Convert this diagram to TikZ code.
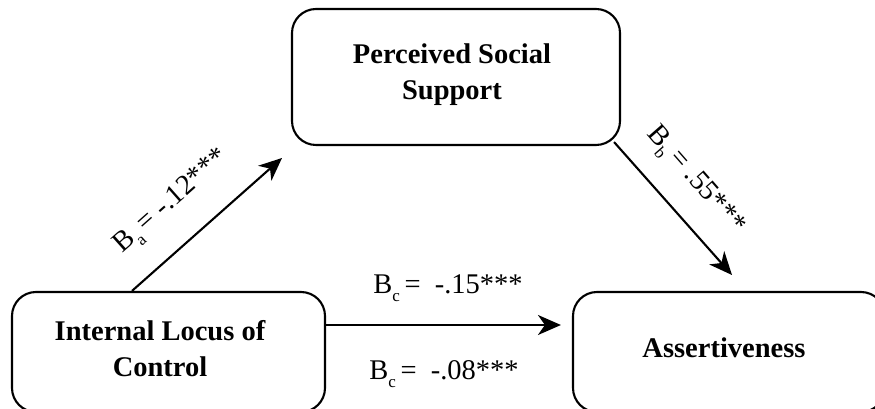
\documentclass[tikz,border=0pt]{standalone}
\usepackage{fontspec}
\setmainfont{Liberation Serif}
\usetikzlibrary{arrows.meta,calc}
\newcommand{\lowsub}[1]{\raisebox{-8pt}{\fontsize{17}{17}\selectfont #1}}
\begin{document}
\begin{tikzpicture}[x=1pt,y=1pt,
  box/.style={draw, line width=2.1pt, rounded corners=24pt, inner sep=0pt},
  boxtext/.style={font=\bfseries\fontsize{28.5}{36.5}\selectfont, align=center, anchor=base},
  lbl/.style={font=\fontsize{28.5}{30}\selectfont, inner sep=0pt},
  arr/.style={line width=2.1pt, -{Stealth[length=23pt,width=20pt,inset=7pt]}}]
\useasboundingbox (0,0) rectangle (875,409);
% boxes
\node[box, minimum width=328pt, minimum height=136pt] (pss) at (456,332) {};
\node[box, minimum width=313pt, minimum height=120pt] (ilc) at (168.5,57) {};
\node[box, minimum width=312pt, minimum height=120pt] (asr) at (729,57) {};
% texts (anchor = baseline of last line)
\node[boxtext] (tpss) at (452,309) {Perceived Social\\Support};
\node[boxtext] (tilc) at (160,32) {Internal Locus of\\Control};
\node[boxtext] (tasr) at (724,51) {Assertiveness};
% free ends
\coordinate (ta) at (282,251);
\coordinate (tb) at (732,134);
% connectors
\draw[arr] ($(ilc.north west)+(121,0)$) -- (ta);
\draw[arr] ($(pss.south east)+(-7,4)$) -- (tb);
\draw[arr, shorten >=11pt] (ilc.east |- 0,84) -- (asr.west |- 0,84);
% labels
\node[lbl, rotate=41.6] (la) at (172,207) {B\lowsub{a}\,= -.12***};
\node[lbl, rotate=-48.8] (lb) at (695,228) {B\lowsub{b}\,= .55***};
\node[lbl] (lc1) at (448,121) {B\lowsub{c}\,=~~-.15***};
\node[lbl] (lc2) at (444,35) {B\lowsub{c}\,=~~-.08***};
\end{tikzpicture}
\end{document}
